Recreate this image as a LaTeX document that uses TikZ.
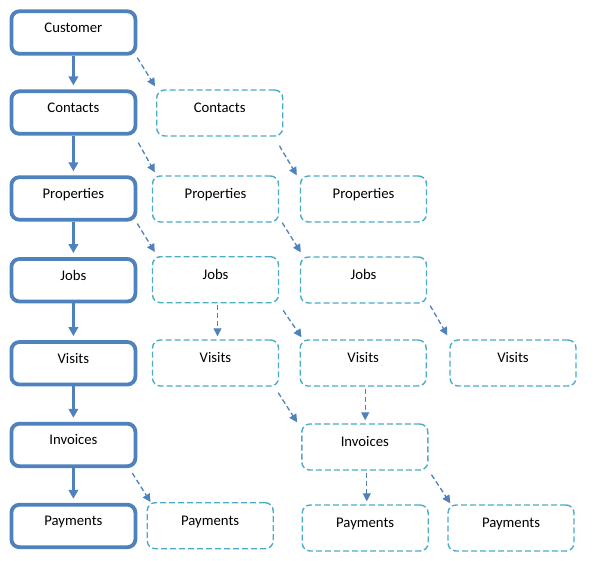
\documentclass[tikz,border=0pt]{standalone}
\usepackage{fontspec}
\setmainfont{Carlito}
\usetikzlibrary{arrows.meta}
\definecolor{mainblue}{RGB}{79,129,189}
\definecolor{copyaqua}{RGB}{75,172,198}

\begin{document}
\begin{tikzpicture}[x=1pt,y=-1pt]
    \tikzstyle{every node}+=[inner sep=0pt, anchor=north, font=\fontsize{14.7}{17}\selectfont]
    \tikzstyle{mainbox}=[draw=mainblue, line width=3.8pt, rounded corners=8pt, minimum width=124pt, text height=21pt, text depth=21.5pt]
    \tikzstyle{copybox}=[draw=copyaqua, line width=1.4pt, dash pattern=on 6pt off 3pt, rounded corners=8pt, minimum width=126pt, text height=22.3pt, text depth=23.7pt]
    \tikzstyle{mainlink}=[mainblue, line width=3.6pt, -{Triangle[length=9pt,width=9.5pt]}, shorten >=4pt]
    \tikzstyle{copylink}=[mainblue, line width=1.3pt, dash pattern=on 5pt off 3pt, -{Triangle[length=8pt,width=8pt]}]
    \useasboundingbox (0,0) rectangle (596,560);
    \node [mainbox] (cust) at (73.4,9.4) {Customer};
    \node [mainbox] (con1) at (73.4,89.4) {Contacts};
    \node [mainbox] (prop1) at (73.4,175.3) {Properties};
    \node [mainbox] (jobs1) at (73.4,257.1) {Jobs};
    \node [mainbox] (vis1) at (73.4,340.1) {Visits};
    \node [mainbox] (inv1) at (73.4,421.8) {Invoices};
    \node [mainbox] (pay1) at (73.4,502.8) {Payments};
    \node [copybox] (con2) at (219.7,89.3) {Contacts};
    \node [copybox] (prop2) at (215.5,175.3) {Properties};
    \node [copybox] (jobs2) at (215.5,256) {Jobs};
    \node [copybox] (vis2) at (215.5,339.3) {Visits};
    \node [copybox] (pay2) at (210.2,502) {Payments};
    \node [copybox] (prop3) at (363.5,175.3) {Properties};
    \node [copybox] (jobs3) at (363.5,256.3) {Jobs};
    \node [copybox] (vis3) at (363.2,339.3) {Visits};
    \node [copybox] (inv3) at (364.8,423.3) {Invoices};
    \node [copybox] (pay3) at (365.2,504.3) {Payments};
    \node [copybox] (vis4) at (513,339.3) {Visits};
    \node [copybox] (pay4) at (511,504.3) {Payments};
    \foreach \a/\b in {cust/con1, con1/prop1, prop1/jobs1, jobs1/vis1, vis1/inv1, inv1/pay1}
        \draw [mainlink] (\a) -- (\b);
    \foreach \a/\b/\s/\t in {cust/con2/{(0,2)}/{(-1,-3)}, con1/prop2/{(1,7)}/{(3,-3)}, con2/prop3/{(-4,9)}/{(-3,0)},
            prop1/jobs2/{(0,2)}/{(3,-4)}, prop2/jobs3/{(3,0)}/{(1,-4)}, jobs2/vis3/{(4,7)}/{(2,-2)},
            jobs3/vis4/{(3,2)}/{(-2,-4)}, vis2/inv3/{(-1,6)}/{(-4,-1)}, inv1/pay2/{(-5,5)}/{(4,0)},
            inv3/pay4/{(3,4)}/{(3,-1)}}
        \draw [copylink] ([shift=\s]\a.south east) -- ([shift=\t]\b.north west);
    \foreach \a/\b in {jobs2/vis2, vis3/inv3, inv3/pay3}
        \draw [copylink, shorten <=2pt, shorten >=3pt] ([xshift=2pt]\a.south) -- ([xshift=2pt]\a.south |- \b.north);
\end{tikzpicture}
\end{document}
